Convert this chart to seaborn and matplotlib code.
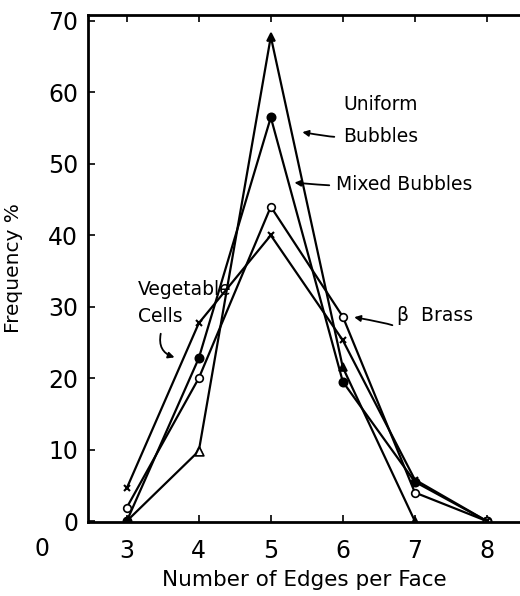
import matplotlib
matplotlib.use("Agg")
import matplotlib.pyplot as plt
import seaborn as sns
import pandas as pd

edges = [3, 4, 5, 6, 7, 8]
uniform_bubbles = [0.0, 9.8, 67.8, 21.5, 0.0, None]
mixed_bubbles = [0.0, 22.8, 56.5, 19.5, 5.5, 0.0]
beta_brass = [1.9, 20.0, 44.0, 28.6, 4.0, 0.0]
vegetable_cells = [4.6, 27.7, 40.0, 25.3, 5.8, 0.0]

yticks = [0, 10, 20, 30, 40, 50, 60, 70]
xticks = [3, 4, 5, 6, 7, 8]

sns.set_theme(style="ticks")
plt.rcParams['font.family'] = ['DejaVu Sans']

fig = plt.figure(figsize=(5.2, 5.96), dpi=100)
ax = fig.add_axes([0.169, 0.124, 0.831, 0.851])

series = [
    ("Uniform Bubbles", uniform_bubbles, dict(marker="^", markersize=6, markerfacecolor="black")),
    ("Mixed Bubbles", mixed_bubbles, dict(marker="o", markersize=6, markerfacecolor="black")),
    ("β Brass", beta_brass, dict(marker="o", markersize=5.5, markerfacecolor="white")),
    ("Vegetable Cells", vegetable_cells, dict(marker="x", markersize=4.5, markeredgewidth=1.5)),
]
for name, vals, mk in series:
    df = pd.DataFrame({"edges": edges, "freq": vals}).dropna()
    sns.lineplot(data=df, x="edges", y="freq", ax=ax, color="black", linewidth=1.6,
                 markeredgecolor="black", markeredgewidth=mk.pop("markeredgewidth", 1.2), **mk)

# open triangle for uniform bubbles at 4 edges
df4 = pd.DataFrame({"edges": [edges[1]], "freq": [uniform_bubbles[1]]})
sns.scatterplot(data=df4, x="edges", y="freq", ax=ax, marker="^", s=40,
                facecolor="white", edgecolor="black", linewidth=1.2, zorder=5)

ax.set_xlim(2.46, 8.46)
ax.set_ylim(-0.14, 70.84)
ax.set_xticks(xticks)
ax.set_yticks(yticks)
ax.tick_params(axis="both", direction="in", length=5, width=1.2, labelsize=17, top=True,
               colors="black", pad=7)
ax.tick_params(axis="x", pad=12)
ax.spines["right"].set_visible(False)
for s in ["left", "bottom", "top"]:
    ax.spines[s].set_linewidth(2.0)
    ax.spines[s].set_color("black")
ax.set_xlabel("Number of Edges per Face", fontsize=15.5, labelpad=5, color="black")
ax.set_ylabel("Frequency %", fontsize=14.5, labelpad=18, color="black")
fig.text(42 / 520, 1 - 549 / 596, "0", fontsize=17, ha="center", va="center", color="black")

tk = dict(fontsize=13.5, color="black")
ax.text(6.01, 57.5, "Uniform", **tk)
ax.text(6.01, 53.0, "Bubbles", **tk)
ax.text(5.9, 46.3, "Mixed Bubbles", **tk)
ax.text(3.15, 31.7, "Vegetable", **tk)
ax.text(3.15, 27.8, "Cells", **tk)
ax.text(6.75, 28.0, "β  Brass", **tk)

ap = dict(arrowstyle="-|>", color="black", lw=1.3, mutation_scale=9)
ax.annotate("", xy=(5.40, 54.5), xytext=(5.92, 53.8),
            arrowprops=dict(connectionstyle="angle3,angleA=30,angleB=-10", **ap))
ax.annotate("", xy=(5.29, 47.4), xytext=(5.85, 47.0),
            arrowprops=dict(connectionstyle="angle3,angleA=30,angleB=-5", **ap))
ax.annotate("", xy=(6.12, 28.6), xytext=(6.72, 27.2),
            arrowprops=dict(connectionstyle="angle3,angleA=40,angleB=-10", **ap))
ax.annotate("", xy=(3.70, 22.8), xytext=(3.48, 26.6),
            arrowprops=dict(connectionstyle="arc3,rad=0.5", **ap))

fig.savefig("out.png", dpi=100)
